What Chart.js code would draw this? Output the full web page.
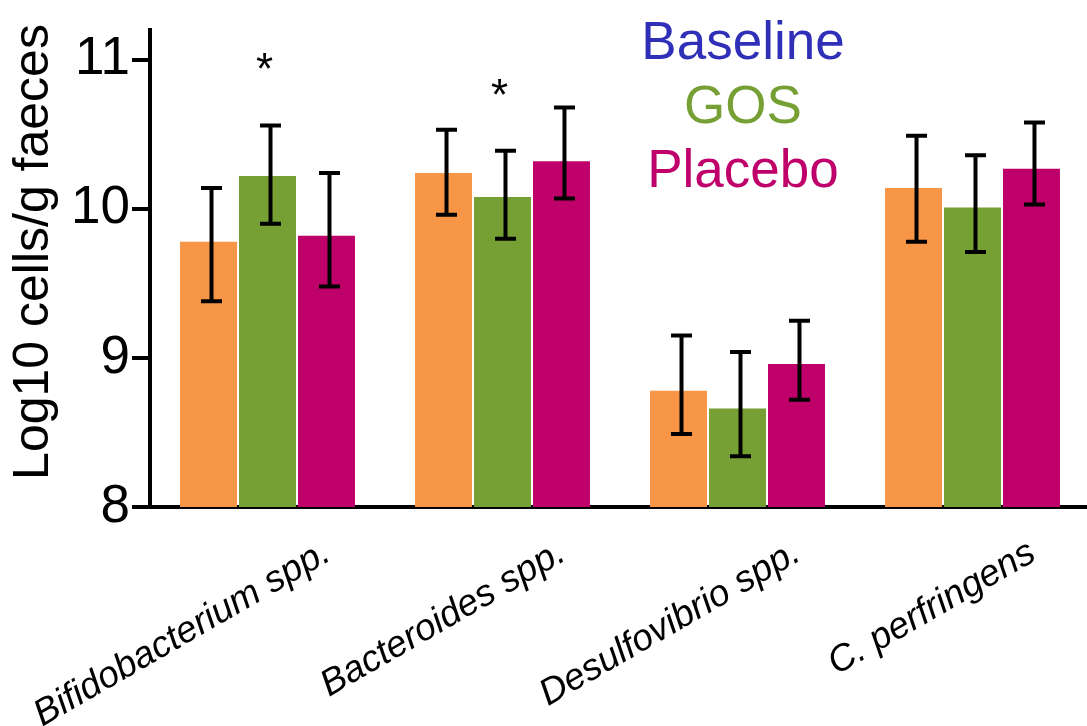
<!DOCTYPE html>
<html>
<head>
<meta charset="utf-8">
<script src="https://cdn.jsdelivr.net/npm/chart.js@4.4.0/dist/chart.umd.min.js"></script>
<style>
  html, body { margin: 0; padding: 0; background: #fff; overflow: hidden; }
  #wrap { width: 1090px; height: 726px; position: relative; }
</style>
</head>
<body>
<div id="wrap"><canvas id="c"></canvas></div>
<script>
// ---- Data ----
const categories = ['Bifidobacterium spp.', 'Bacteroides spp.', 'Desulfovibrio spp.', 'C. perfringens'];
const seriesNames = ['Baseline', 'GOS', 'Placebo'];

const baseline     = [9.78, 10.24, 8.78, 10.14];
const baselineLow  = [9.38,  9.96, 8.49,  9.78];
const baselineHigh = [10.14, 10.53, 9.15, 10.49];

const gos     = [10.22, 10.08, 8.66, 10.01];
const gosLow  = [9.90,  9.80, 8.34,  9.71];
const gosHigh = [10.56, 10.39, 9.04, 10.36];

const placebo     = [9.82, 10.32, 8.96, 10.27];
const placeboLow  = [9.48, 10.07, 8.72, 10.03];
const placeboHigh = [10.24, 10.68, 9.25, 10.58];

const gosSignificant = [true, true, false, false];

const yTicks = [8, 9, 10, 11];
const yTitle = 'Log10 cells/g faeces';

// ---- Styles ----
const FONT = "'Liberation Sans', Arial, Helvetica, sans-serif";
const barColors = ['#F79646', '#76A033', '#C0006A'];
const legendColors = ['#2F2FB8', '#76A033', '#C0006A'];

Chart.defaults.font.family = FONT;
Chart.defaults.color = '#000';

const errorBars = {
  id: 'errorBars',
  afterDatasetsDraw(chart) {
    const ctx = chart.ctx;
    const ys = chart.scales.y;
    chart.data.datasets.forEach((ds, i) => {
      const meta = chart.getDatasetMeta(i);
      meta.data.forEach((bar, j) => {
        const x = bar.x + 3;
        const yt = ys.getPixelForValue(ds.errHigh[j]);
        const yb = ys.getPixelForValue(ds.errLow[j]);
        ctx.save();
        ctx.strokeStyle = '#000';
        ctx.lineWidth = 4;
        ctx.beginPath();
        ctx.moveTo(x, yt); ctx.lineTo(x, yb);
        ctx.moveTo(x - 10.5, yt); ctx.lineTo(x + 10.5, yt);
        ctx.moveTo(x - 10.5, yb); ctx.lineTo(x + 10.5, yb);
        ctx.stroke();
        ctx.restore();
      });
    });
  }
};

const stars = {
  id: 'stars',
  afterDatasetsDraw(chart) {
    const ctx = chart.ctx;
    const ys = chart.scales.y;
    const meta = chart.getDatasetMeta(1);
    const ds = chart.data.datasets[1];
    ctx.save();
    ctx.fillStyle = '#000';
    ctx.font = `44px ${FONT}`;
    ctx.textAlign = 'center';
    ctx.textBaseline = 'alphabetic';
    gosSignificant.forEach((sig, j) => {
      if (!sig) return;
      const bar = meta.data[j];
      const yt = ys.getPixelForValue(ds.errHigh[j]);
      ctx.fillText('*', bar.x - 3, yt - 41);
    });
    ctx.restore();
  }
};

const legendText = {
  id: 'legendText',
  afterDraw(chart) {
    const ctx = chart.ctx;
    ctx.save();
    ctx.font = `53px ${FONT}`;
    ctx.textAlign = 'center';
    ctx.textBaseline = 'alphabetic';
    chart.data.datasets.forEach((ds, i) => {
      ctx.fillStyle = legendColors[i];
      ctx.fillText(ds.label, 743, 59 + i * 64);
    });
    ctx.restore();
  }
};

const yTitleText = {
  id: 'yTitleText',
  afterDraw(chart) {
    const ctx = chart.ctx;
    ctx.save();
    ctx.translate(34, 252);
    ctx.rotate(-Math.PI / 2);
    ctx.font = `50px ${FONT}`;
    ctx.fillStyle = '#000';
    ctx.textAlign = 'center';
    ctx.textBaseline = 'middle';
    ctx.fillText(yTitle, 0, 0);
    ctx.restore();
  }
};

const datasets = [
  { label: seriesNames[0], data: baseline, errLow: baselineLow, errHigh: baselineHigh, backgroundColor: barColors[0] },
  { label: seriesNames[1], data: gos, errLow: gosLow, errHigh: gosHigh, backgroundColor: barColors[1] },
  { label: seriesNames[2], data: placebo, errLow: placeboLow, errHigh: placeboHigh, backgroundColor: barColors[2] }
].map(d => Object.assign(d, { borderWidth: 0, barPercentage: 0.966, categoryPercentage: 0.753 }));

new Chart(document.getElementById('c'), {
  type: 'bar',
  data: { labels: categories, datasets },
  options: {
    responsive: true,
    maintainAspectRatio: false,
    animation: false,
    devicePixelRatio: 1,
    layout: { padding: { top: 30, left: 0, right: 0, bottom: 0 } },
    plugins: { legend: { display: false }, tooltip: { enabled: false } },
    scales: {
      x: {
        grid: { display: false },
        border: { display: true, color: '#000', width: 4 },
        ticks: {
          autoSkip: false,
          minRotation: 30,
          maxRotation: 30,
          labelOffset: 60,
          padding: 16,
          color: '#000',
          font: { size: 37, style: 'italic' }
        },
        afterFit(scale) {
          scale.height = 219;
          scale.paddingLeft = 0;
          scale.paddingRight = 0;
        }
      },
      y: {
        min: 8,
        max: 11.2,
        grid: { display: true, drawOnChartArea: false, drawTicks: true, tickLength: 18, color: '#000', lineWidth: 4 },
        border: { display: true, color: '#000', width: 4 },
        afterBuildTicks(scale) {
          scale.ticks = yTicks.map(v => ({ value: v }));
        },
        ticks: {
          padding: 2,
          color: '#000',
          font: { size: 53 }
        },
        afterFit(scale) {
          scale.width = 150;
          scale.paddingTop = 0;
          scale.paddingBottom = 0;
        }
      }
    }
  },
  plugins: [errorBars, stars, legendText, yTitleText]
});
</script>
</body>
</html>
